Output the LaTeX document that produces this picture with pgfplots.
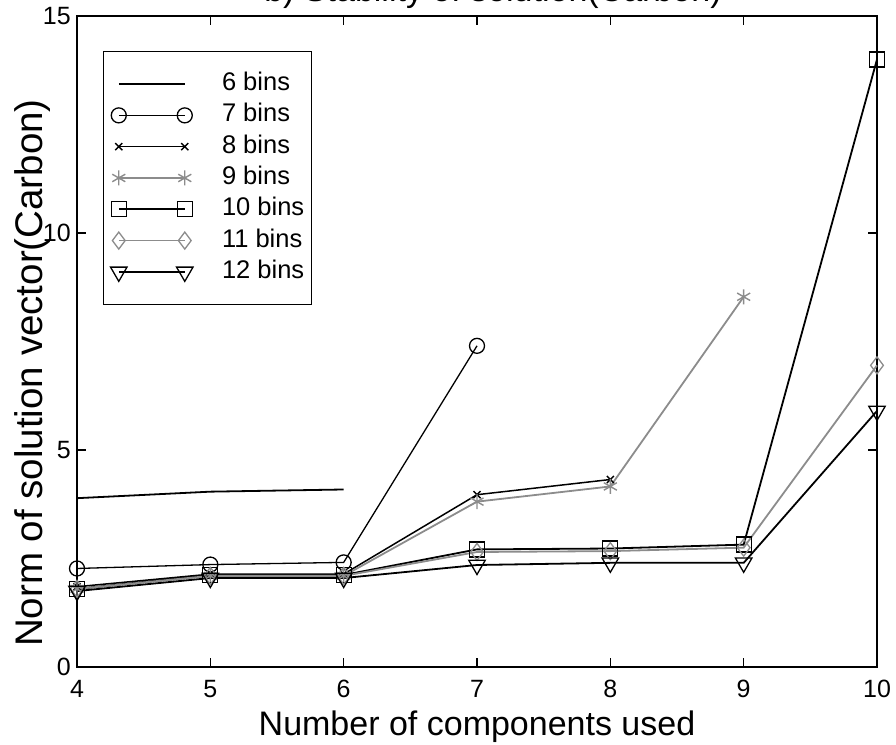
\documentclass[border=0pt]{standalone}
\usepackage{fontspec}
\setmainfont{Liberation Sans}
\usepackage{pgfplots}
\pgfplotsset{compat=1.18}
\definecolor{midgray}{gray}{0.55}

\begin{document}
\begin{tikzpicture}
\begin{axis}[
  at={(0pt,0pt)}, anchor=south west,
  scale only axis,
  width=800pt, height=651pt,
  xmin=4, xmax=10, ymin=0, ymax=15,
  xtick={4,5,6,7,8,9,10},
  ytick={0,5,10,15},
  tick align=inside,
  xtick pos=both, ytick pos=both,
  major tick length=9pt,
  axis line style={line width=1.3pt},
  every tick/.style={line width=1.3pt, black},
  /pgf/number format/assume math mode=true,
  tick label style={font=\fontsize{25}{28}\selectfont},
  xticklabel style={anchor=north, inner sep=0pt, yshift=-13pt},
  yticklabel style={anchor=east, inner sep=0pt, xshift=-6pt},
  xlabel={Number of components used},
  ylabel={Norm of solution vector(Carbon)},
  xlabel style={font=\fontsize{34}{38}\selectfont, at={(axis description cs:0.5,0)}, anchor=base, yshift=-68pt},
  ylabel style={font=\fontsize{38.5}{42}\selectfont, at={(axis description cs:-0.04375,0.4516)}, anchor=base},
  title={b) Stability of solution(Carbon)},
  title style={font=\fontsize{34}{38}\selectfont, at={(axis description cs:0.5,1)}, anchor=base, xshift=16pt, yshift=8pt},
  clip=false,
  legend cell align=left,
  legend image code/.code={\draw[#1] plot coordinates {(0pt,0pt) (66pt,0pt)};},
  legend style={
    at={(axis description cs:0.0325,0.9462)}, anchor=north west,
    font=\fontsize{25.5}{28}\selectfont,
    draw=black, line width=1.1pt,
    nodes={inner sep=0pt, text height=18pt, text depth=5pt},
    row sep=8.3pt, column sep=29pt,
    inner xsep=7pt, inner ysep=21pt,
  },
  every axis plot/.append style={line width=1.8pt},
]
% 6 bins
\addplot[black, no markers] coordinates {(4,3.89) (5,4.04) (6,4.09)};
\addlegendentry{6 bins}
% 7 bins
\addplot[black, line width=1.3pt, mark=o, mark size=7.5pt, mark options={solid, line width=1.3pt}]
  coordinates {(4,2.27) (5,2.36) (6,2.41) (7,7.40)};
\addlegendentry{7 bins}
% 8 bins
\addplot[black, line width=1.5pt, mark=x, mark size=5pt, mark options={line width=1.4pt}]
  coordinates {(4,1.85) (5,2.14) (6,2.14) (7,3.97) (8,4.32)};
\addlegendentry{8 bins}
% 9 bins
\addplot[midgray, mark=asterisk, mark size=7.5pt, mark options={line width=1.4pt}]
  coordinates {(4,1.80) (5,2.10) (6,2.10) (7,3.81) (8,4.16) (9,8.53)};
\addlegendentry{9 bins}
% 10 bins
\addplot[black, mark=square, mark size=7.5pt, mark options={line width=1.3pt}]
  coordinates {(4,1.80) (5,2.12) (6,2.12) (7,2.71) (8,2.73) (9,2.82) (10,14.0)};
\addlegendentry{10 bins}
% 11 bins
\addplot[midgray, mark=diamond, mark size=8.5pt, mark options={line width=1.3pt}]
  coordinates {(4,1.80) (5,2.10) (6,2.10) (7,2.65) (8,2.67) (9,2.75) (10,6.95)};
\addlegendentry{11 bins}
% 12 bins
\addplot[black, mark=triangle, mark size=9.5pt, mark options={rotate=180, line width=1.3pt}]
  coordinates {(4,1.75) (5,2.05) (6,2.05) (7,2.35) (8,2.40) (9,2.40) (10,5.90)};
\addlegendentry{12 bins}
\end{axis}
\pgfresetboundingbox
\path[use as bounding box] (-77pt,-77pt) rectangle (819pt,667pt);
\end{tikzpicture}
\end{document}
